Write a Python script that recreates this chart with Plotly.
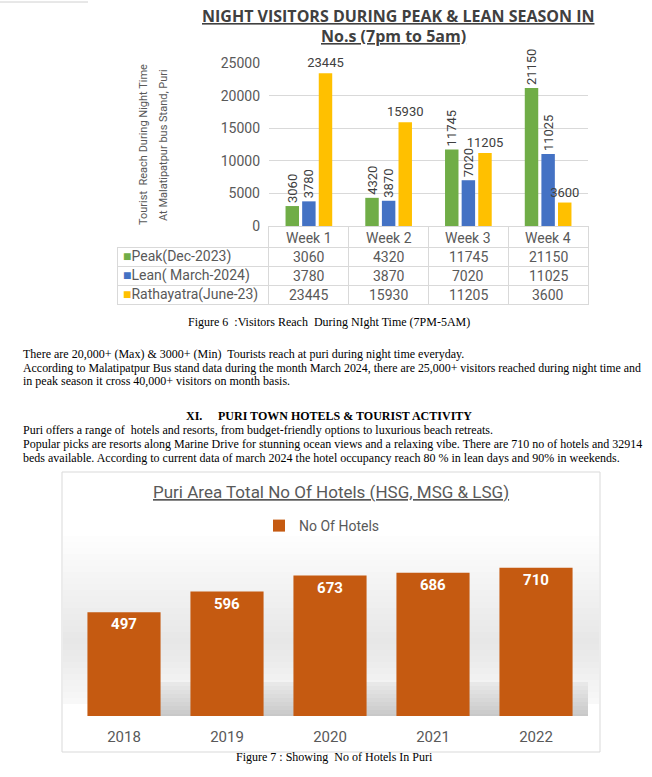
import plotly.graph_objects as go

# ---------------- data ----------------
weeks = ["Week 1", "Week 2", "Week 3", "Week 4"]
peak = [3060, 4320, 11745, 21150]
lean = [3780, 3870, 7020, 11025]
ratha = [23445, 15930, 11205, 3600]
series_names = ["Peak(Dec-2023)", "Lean( March-2024)", "Rathayatra(June-23)"]
series_colors = ["#70AD47", "#4472C4", "#FFC000"]
label_angles = [-90, -90, 0]

years = ["2018", "2019", "2020", "2021", "2022"]
hotels = [497, 596, 673, 686, 710]
hotel_series = "No Of Hotels"

# ---------------- helpers ----------------
W, H = 652, 777
def px(x):
    return x / W
def py(y):
    return 1 - y / H

SANS = "Roboto, Lato, sans-serif"
TITLE = "Open Sans, sans-serif"
SERIF = "Liberation Serif, Times New Roman, serif"
GRAY = "#595959"

fig = go.Figure()

# ---------------- top chart ----------------
for name, vals, col, ang in zip(series_names, [peak, lean, ratha], series_colors, label_angles):
    fig.add_trace(go.Bar(
        x=weeks, y=vals, name=name,
        marker=dict(color=col, line=dict(width=0)),
        text=[str(v) for v in vals], textposition="outside", textangle=ang,
        constraintext="none", cliponaxis=False,
        textfont=dict(family=SANS, size=13, color="#404040"),
        showlegend=False, xaxis="x", yaxis="y", hoverinfo="skip",
    ))

# data table grid under the top chart (texts placed on the category axis below)
TABLE_TOP, HEAD_H, ROW_H = 226, 21, 19
n_rows = len(series_names)
fig.add_trace(go.Table(
    domain=dict(x=[px(117), px(588)], y=[py(312), py(TABLE_TOP)]),
    columnwidth=[152, 80, 80, 80, 80],
    header=dict(values=[""] * (len(weeks) + 1), height=HEAD_H,
                fill=dict(color=["rgba(0,0,0,0)"] + ["white"] * len(weeks)),
                line=dict(color=["rgba(0,0,0,0)"] + ["#d9d9d9"] * len(weeks), width=1)),
    cells=dict(values=[[""] * n_rows for _ in range(len(weeks) + 1)], height=ROW_H,
               fill=dict(color="white"), line=dict(color="#d9d9d9", width=1)),
))

# ---------------- bottom chart ----------------
fig.add_trace(go.Bar(
    x=years, y=hotels, name=hotel_series, width=0.71,
    marker=dict(color="#C55A11", line=dict(width=0)),
    texttemplate="<b>%{y}</b>", textposition="inside", insidetextanchor="end",
    textfont=dict(family=SANS, size=15, color="white"),
    xaxis="x2", yaxis="y2", showlegend=True, hoverinfo="skip",
))

# ---------------- decorations ----------------
shapes = []
shapes.append(dict(type="line", xref="paper", yref="paper", x0=0, x1=px(88), y0=py(2), y1=py(2),
                   line=dict(color="#d0d0d0", width=1)))
shapes.append(dict(type="rect", xref="paper", yref="paper", x0=px(62), x1=px(600), y0=py(752), y1=py(472),
                   line=dict(color="#d9d9d9", width=1), fillcolor="white", layer="below"))
y = 530
while y < 700:
    t = (y - 530) / 110.0
    if y <= 640:
        g = int(255 - 24 * t)
    else:
        g = int(231 + (y - 640) * 0.3)
    shapes.append(dict(type="rect", xref="paper", yref="paper", x0=px(63), x1=px(599),
                       y0=py(y + 6), y1=py(y), line=dict(width=0),
                       fillcolor=f"rgb({g},{g},{g})", layer="below"))
    y += 6
for k, y in enumerate(range(682, 716, 4)):
    g = 232 - k * 4
    shapes.append(dict(type="rect", xref="paper", yref="paper", x0=px(150 - k * 6), x1=px(588),
                       y0=py(y + 4), y1=py(y), line=dict(width=0),
                       fillcolor=f"rgb({g},{g},{g})", layer="below"))
shapes.append(dict(type="rect", xref="paper", yref="paper", x0=px(63), x1=px(599), y0=py(751), y1=py(716),
                   line=dict(width=0), fillcolor="white", layer="below"))

annotations = []
def note(x, y, text, size, color="black", family=SERIF, xanchor="left", angle=0, xref="paper"):
    annotations.append(dict(xref=xref, yref="paper", x=(x if xref != "paper" else px(x)), y=py(y),
                            text=text, showarrow=False, xanchor=xanchor, yanchor="middle",
                            textangle=angle, font=dict(family=family, size=size, color=color)))

# table texts: headers and values on the week axis, row labels with colour keys
for w in weeks:
    note(w, TABLE_TOP + HEAD_H / 2 + 1, w, 14, GRAY, SANS, "center", xref="x")
for r, (n, c, vals) in enumerate(zip(series_names, series_colors, (peak, lean, ratha))):
    yc = TABLE_TOP + HEAD_H + ROW_H * r + ROW_H / 2
    note(121, yc, f'<span style="color:{c}">■</span>{n}', 14, GRAY, SANS)
    for w, v in zip(weeks, vals):
        note(w, yc, str(v), 14, GRAY, SANS, "center", xref="x")

note(398, 16, "<u><b>NIGHT VISITORS DURING PEAK &amp; LEAN SEASON IN</b></u>", 16, "#404040", TITLE, "center")
note(393, 36, "<u><b>No.s (7pm to 5am)</b></u>", 16, "#404040", TITLE, "center")
note(143, 145, "Tourist  Reach During Night Time", 11, GRAY, SANS, "center", -90)
note(163, 145, "At Malatipatpur bus Stand, Puri", 11, GRAY, SANS, "center", -90)

note(329, 322, "Figure 6  :Visitors Reach  During NIght Time (7PM-5AM)", 12, "black", SERIF, "center")
body = [
    (354, "There are 20,000+ (Max) &amp; 3000+ (Min)  Tourists reach at puri during night time everyday.", 12),
    (368, "According to Malatipatpur Bus stand data during the month March 2024, there are 25,000+ visitors reached during night time and", 11.9),
    (381, "in peak season it cross 40,000+ visitors on month basis.", 12),
    (430, "Puri offers a range of  hotels and resorts, from budget-friendly options to luxurious beach retreats.", 12),
    (444, "Popular picks are resorts along Marine Drive for stunning ocean views and a relaxing vibe. There are 710 no of hotels and 32914", 12),
    (458, "beds available. According to current data of march 2024 the hotel occupancy reach 80 % in lean days and 90% in weekends.", 12),
]
for yy, txt, sz in body:
    note(21, yy, txt, sz)
note(184, 416, "<b>XI.</b>", 12)
note(216, 416, "<b>PURI TOWN HOTELS &amp; TOURIST ACTIVITY</b>", 12)

note(331, 492, "<u>Puri Area Total No Of Hotels (HSG, MSG &amp; LSG)</u>", 17, GRAY, SANS, "center")
note(334, 757, "Figure 7 : Showing  No of Hotels In Puri", 12, "black", SERIF, "center")

fig.update_layout(
    width=W, height=H,
    margin=dict(l=0, r=0, t=0, b=0, autoexpand=False),
    paper_bgcolor="white", plot_bgcolor="rgba(0,0,0,0)",
    barmode="group", bargap=0.375, bargroupgap=0.19,
    font=dict(family=SANS, color=GRAY),
    xaxis=dict(domain=[px(269), px(588)], anchor="y", showticklabels=False, ticks="",
               showline=False, showgrid=False, zeroline=False),
    yaxis=dict(domain=[py(226), py(63)], anchor="x", range=[0, 25000], dtick=5000,
               tickformat="d", gridcolor="#d9d9d9", zeroline=False, showline=False, ticks="",
               tickfont=dict(family=SANS, size=14, color=GRAY), ticklabelstandoff=8),
    xaxis2=dict(domain=[px(72.5), px(587.5)], anchor="y2", ticks="", showline=False,
                showgrid=False, zeroline=False, ticklabelstandoff=10,
                tickfont=dict(family=SANS, size=15, color=GRAY)),
    yaxis2=dict(domain=[py(716), py(549)], anchor="x2", range=[0, 800], visible=False,
                showgrid=False, zeroline=False),
    legend=dict(x=px(322), y=py(526), xanchor="center", yanchor="middle",
                bgcolor="rgba(0,0,0,0)", font=dict(family=SANS, size=14, color=GRAY),
                itemwidth=30),
    shapes=shapes,
    annotations=annotations,
)

fig.write_html("out.html", config={"displayModeBar": False},
               post_script="document.body.style.margin='0px';document.body.style.padding='0px';")
